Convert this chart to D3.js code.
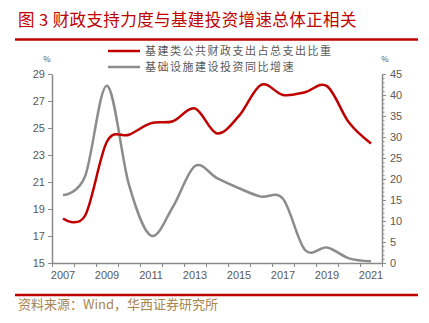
<!DOCTYPE html>
<html>
<head>
<meta charset="utf-8">
<script src="https://cdn.jsdelivr.net/npm/d3@7"></script>
<style>
  html, body { margin: 0; padding: 0; background: #fff; }
  svg { display: block; }
  text { font-family: "Noto Sans CJK SC", "Liberation Sans", sans-serif; }
</style>
</head>
<body>
<svg id="chart" width="429" height="323"></svg>
<script>
// Years on the category axis
const years = [2007, 2008, 2009, 2010, 2011, 2012, 2013, 2014, 2015, 2016, 2017, 2018, 2019, 2020, 2021];
// Share of infrastructure-type public fiscal spending in total spending (%), left axis
const fiscalShare = [18.3, 18.5, 24.0, 24.5, 25.35, 25.5, 26.45, 24.6, 25.9, 28.2, 27.45, 27.65, 28.1, 25.4, 23.85];
// Infrastructure investment YoY growth (%), right axis
const infraGrowth = [16.2, 20.6, 42.2, 18.6, 6.5, 13.4, 23.1, 20.2, 17.8, 15.8, 15.3, 3.1, 3.7, 1.1, 0.4];
// Axis ticks
const leftTicks = [15, 17, 19, 21, 23, 25, 27, 29];
const rightTicks = [0, 5, 10, 15, 20, 25, 30, 35, 40, 45];
const yearLabels = [2007, 2009, 2011, 2013, 2015, 2017, 2019, 2021];

const titleText = "图 3 财政支持力度与基建投资增速总体正相关";
const legendNames = ["基建类公共财政支出占总支出比重", "基础设施建设投资同比增速"];
const sourceText = "资料来源：Wind，华西证券研究所";

const red = "#c00000";
const grey = "#8c8c8c";
const axisColor = "#8a8a8a";
const labelColor = "#595959";

const svg = d3.select("#chart");

const plot = { left: 52, right: 382, top: 74, bottom: 263 };

const x = d3.scaleBand().domain(years).range([plot.left, plot.right]).padding(0);
const yL = d3.scaleLinear().domain([15, 29]).range([plot.bottom, plot.top]);
const yR = d3.scaleLinear().domain([0, 45]).range([plot.bottom, plot.top]);
const cx = d => x(d) + x.bandwidth() / 2;

// Title and rules
svg.append("text")
  .attr("x", 18).attr("y", 26)
  .attr("font-size", 16.5)
  .attr("letter-spacing", 0.4)
  .attr("fill", red)
  .text(titleText);

svg.append("line")
  .attr("x1", 15).attr("x2", 418).attr("y1", 39.5).attr("y2", 39.5)
  .attr("stroke", red).attr("stroke-width", 2.5);

svg.append("line")
  .attr("x1", 15).attr("x2", 418).attr("y1", 295).attr("y2", 295)
  .attr("stroke", red).attr("stroke-width", 2.5);

svg.append("text")
  .attr("x", 18).attr("y", 309)
  .attr("font-size", 13)
  .attr("fill", "#a8844e")
  .text(sourceText);

// Legend
const legend = svg.append("g");
[[red, legendNames[0], 51], [grey, legendNames[1], 67]].forEach(([c, name, ly]) => {
  legend.append("line")
    .attr("x1", 108).attr("x2", 140).attr("y1", ly).attr("y2", ly)
    .attr("stroke", c).attr("stroke-width", 2.5);
  legend.append("text")
    .attr("x", 145).attr("y", ly + 4)
    .attr("font-size", 11)
    .attr("letter-spacing", 1.5)
    .attr("fill", labelColor)
    .text(name);
});

// Unit labels
svg.append("text").attr("x", 47).attr("y", 62).attr("font-size", 8)
  .attr("text-anchor", "middle").attr("fill", labelColor).text("%");
svg.append("text").attr("x", 385).attr("y", 62).attr("font-size", 8)
  .attr("text-anchor", "middle").attr("fill", labelColor).text("%");

function styleAxis(g) {
  g.selectAll(".domain").attr("stroke", axisColor).attr("stroke-width", 1.5);
  g.selectAll(".tick line").attr("stroke", axisColor);
  g.selectAll(".tick text")
    .attr("fill", labelColor)
    .attr("font-size", 11)
    .style("font-family", "'Liberation Sans', Arial, sans-serif");
}

// Left axis
const gL = svg.append("g")
  .attr("transform", `translate(${plot.left},0)`)
  .call(d3.axisLeft(yL).tickValues(leftTicks).tickSize(4).tickPadding(3).tickSizeOuter(0));
styleAxis(gL);

// Right axis, minor ticks each unit
const gRminor = svg.append("g")
  .attr("transform", `translate(${plot.right},0)`)
  .call(d3.axisRight(yR).tickValues(d3.range(0, 46, 1)).tickSize(2.5).tickFormat("").tickSizeOuter(0));
gRminor.select(".domain").remove();
gRminor.selectAll(".tick line").attr("stroke", axisColor);

const gR = svg.append("g")
  .attr("transform", `translate(${plot.right},0)`)
  .call(d3.axisRight(yR).tickValues(rightTicks).tickSize(4).tickPadding(4).tickSizeOuter(0));
styleAxis(gR);

// Bottom axis: ticks at category boundaries, labels every other year
const xEdges = d3.scaleLinear().domain([0, years.length]).range([plot.left, plot.right]);
const gXt = svg.append("g")
  .attr("transform", `translate(0,${plot.bottom})`)
  .call(d3.axisBottom(xEdges).tickValues(d3.range(0, years.length + 1)).tickSize(4).tickFormat("").tickSizeOuter(0));
styleAxis(gXt);

const gX = svg.append("g")
  .attr("transform", `translate(0,${plot.bottom})`)
  .call(d3.axisBottom(x).tickValues(yearLabels).tickSize(0).tickPadding(8));
gX.select(".domain").remove();
styleAxis(gX);

// Series lines (smoothed)
const curve = d3.curveCardinal.tension(0);

const lineGrey = d3.line().x((d, i) => cx(years[i])).y(d => yR(d)).curve(curve);
svg.append("path")
  .datum(infraGrowth)
  .attr("d", lineGrey)
  .attr("fill", "none").attr("stroke", grey).attr("stroke-width", 2.5);

const lineRed = d3.line().x((d, i) => cx(years[i])).y(d => yL(d)).curve(curve);
svg.append("path")
  .datum(fiscalShare)
  .attr("d", lineRed)
  .attr("fill", "none").attr("stroke", red).attr("stroke-width", 2.5);
</script>
</body>
</html>
